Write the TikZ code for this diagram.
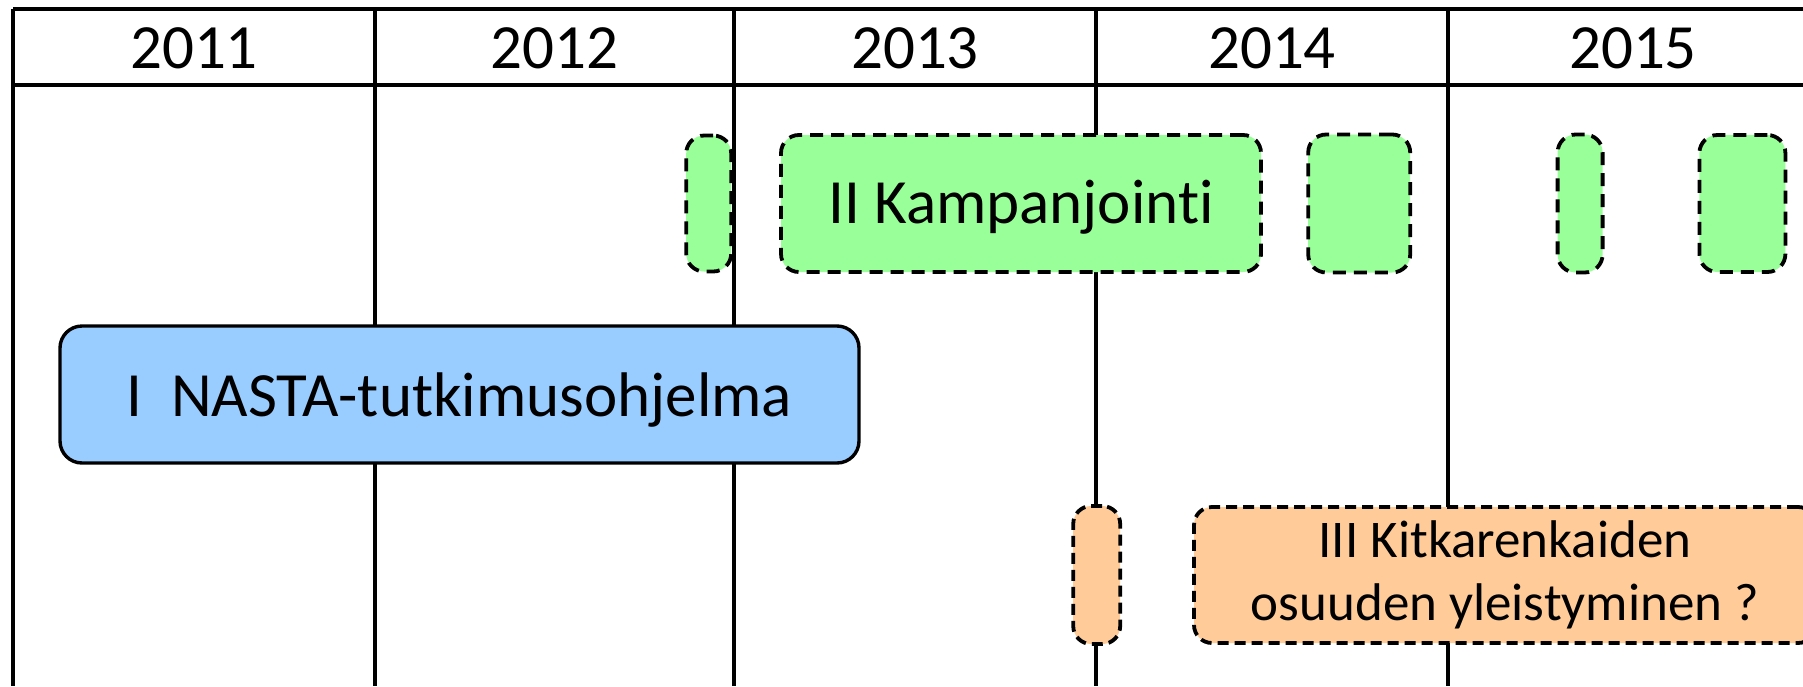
\documentclass[tikz,border=0pt]{standalone}
\usepackage{fontspec}
\setmainfont{Carlito}[Ligatures=NoCommon]
\usepackage{tikz}
\usetikzlibrary{positioning}
\definecolor{campclr}{HTML}{99FF99}
\definecolor{progclr}{HTML}{99CCFF}
\definecolor{tyreclr}{HTML}{FFCC99}
\tikzset{ %
  ,grid/.style={line width=2.3pt}
  ,year/.style={inner sep=0, font=\fontsize{31.5}{38}\selectfont}
  ,prog/.style={draw, line width=1.7pt, rounded corners=11pt, fill=progclr, inner sep=0, text height=22pt, text depth=0pt, font=\fontsize{31.5}{38}\selectfont}
  ,camp/.style={draw, dash pattern=on 6.5pt off 4pt, line width=1.9pt, rounded corners=9pt, fill=campclr, inner sep=0, text height=20pt, text depth=0pt, font=\fontsize{31.5}{38}\selectfont}
  ,tyre/.style={draw, dash pattern=on 5.5pt off 3pt, line width=1.9pt, rounded corners=9pt, fill=tyreclr, inner sep=0, align=center, font=\fontsize{26.5}{31.5}\selectfont}
}

\begin{document}
\begin{tikzpicture}[x=0.5pt, y=-0.5pt]
      \useasboundingbox (0,0) rectangle (1803,686);
      \clip (0,0) rectangle (1803,686);
      % year table
      \draw[grid] (13,9) -- (1830,9) (13,85) -- (1830,85);
      \foreach \x in {13,375,734,1096,1448,1818}
        \draw[grid] (\x,9) -- (\x,686);
      \foreach \x/\yr in {194/2011,554.5/2012,915/2013,1272/2014,1633/2015}
        \node[year] (y\yr) at (\x,48) {\yr};
      % campaigns
      \draw
      node[camp, minimum width=240pt, minimum height=68.5pt] (kamp) at (1021,203.5) {II Kampanjointi}
      node[camp, minimum width=22.5pt, minimum height=68pt, left=23pt of kamp] (kampA) {}
      node[camp, minimum width=51pt, minimum height=69pt, right=21.7pt of kamp] (kampB) {}
      node[camp, minimum width=22.5pt, minimum height=69pt, right=71.8pt of kampB] (kampC) {}
      node[camp, minimum width=43pt, minimum height=68.5pt, right=46.5pt of kampC] (kampD) {};
      % research programme
      \draw
      node[prog, minimum width=399.5pt, minimum height=68.5pt] (nasta) at (459.5,394.5) {I\ \ NASTA-tutkimusohjelma};
      % friction tyres
      \draw
      node[tyre, minimum width=311pt, minimum height=68pt] (kitka) at (1505,575) {III Kitkarenkaiden\\osuuden yleistyminen ?}
      node[tyre, minimum width=23.5pt, minimum height=69pt, left=35pt of kitka] (kitkaA) {};
\end{tikzpicture}
\end{document}
